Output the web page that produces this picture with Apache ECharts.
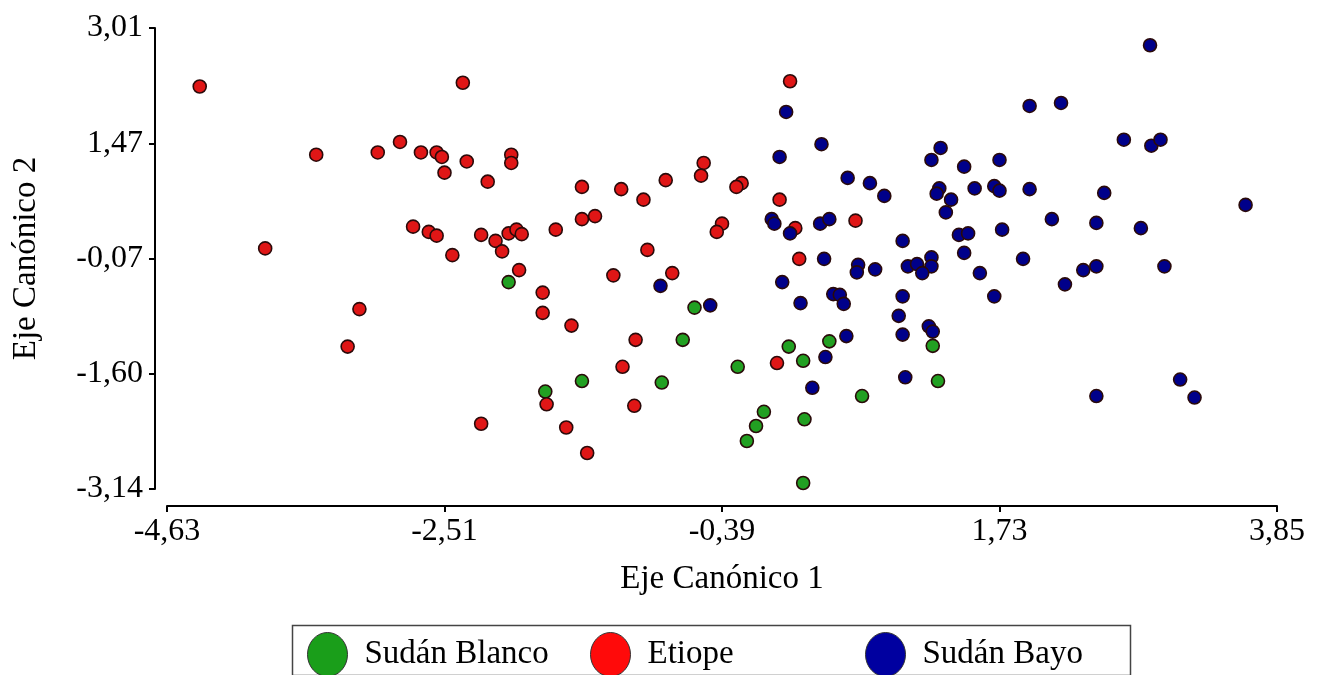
<!DOCTYPE html>
<html>
<head>
<meta charset="utf-8">
<script src="https://cdn.jsdelivr.net/npm/echarts@6/dist/echarts.min.js"></script>
<style>
html,body{margin:0;padding:0;background:#fff;}
#chart{width:1319px;height:675px;}
</style>
</head>
<body>
<div id="chart"></div>
<script>
const seriesNames = ['Sudán Blanco', 'Etiope', 'Sudán Bayo'];
const xTicks = [-4.63, -2.51, -0.39, 1.73, 3.85];
const yTicks = [-3.14, -1.60, -0.07, 1.47, 3.01];
const xTitle = 'Eje Canónico 1';
const yTitle = 'Eje Canónico 2';

const sudanBlanco = [
  [-2.02,-0.38],[-0.60,-0.72],[-0.69,-1.15],[-1.46,-1.70],[-0.85,-1.72],[-1.74,-1.84],
  [-0.27,-1.51],[0.12,-1.24],[0.23,-1.43],[0.43,-1.17],[1.22,-1.23],[1.26,-1.70],
  [0.68,-1.90],[-0.07,-2.11],[-0.13,-2.30],[-0.20,-2.50],[0.24,-2.21],[0.23,-3.06]
];
const etiope = [
  [-4.38,2.23],[-3.49,1.32],[-3.02,1.35],[-2.85,1.49],[-2.69,1.35],[-2.57,1.35],[-2.53,1.29],
  [-2.51,1.08],[-2.75,0.36],[-2.63,0.29],[-2.57,0.24],[-3.88,0.07],[-2.45,-0.02],[-2.37,2.28],
  [-2.34,1.23],[-2.00,1.32],[-2.00,1.21],[-2.18,0.96],[-1.46,0.89],[-1.16,0.86],[-0.99,0.72],
  [-0.82,0.98],[-0.53,1.21],[-0.55,1.04],[-0.39,0.40],[-0.43,0.29],[-2.23,0.25],[-2.12,0.17],
  [-2.02,0.27],[-1.96,0.32],[-1.92,0.26],[-2.07,0.03],[-1.66,0.32],[-1.46,0.46],[-1.36,0.50],
  [-0.96,0.05],[0.13,2.30],[-0.24,0.94],[-0.28,0.89],[0.05,0.72],[0.17,0.34],[0.63,0.44],
  [0.20,-0.07],[-3.16,-0.74],[-3.25,-1.24],[-1.94,-0.22],[-1.76,-0.52],[-1.76,-0.79],
  [-1.54,-0.96],[-1.22,-0.29],[-0.77,-0.26],[-1.05,-1.15],[-1.15,-1.51],[-1.73,-2.01],
  [-1.06,-2.03],[-2.23,-2.27],[-1.58,-2.32],[-1.42,-2.66],[0.03,-1.46]
];
const sudanBayo = [
  [0.10,1.89],[0.37,1.46],[0.05,1.29],[0.57,1.01],[0.74,0.94],[0.85,0.77],[1.28,1.41],
  [1.21,1.25],[1.46,1.16],[1.73,1.25],[1.27,0.87],[1.25,0.80],[1.36,0.72],[1.32,0.55],
  [1.54,0.87],[1.69,0.90],[1.73,0.84],[1.75,0.32],[1.42,0.25],[1.49,0.27],[1.46,0.01],
  [0.99,0.17],[1.21,-0.05],[-0.01,0.46],[0.01,0.40],[0.13,0.27],[0.36,0.40],[0.43,0.46],
  [0.39,-0.07],[2.88,2.78],[1.96,1.97],[2.20,2.01],[2.68,1.52],[2.89,1.44],[2.96,1.52],
  [1.96,0.86],[2.53,0.81],[3.61,0.65],[2.13,0.46],[2.47,0.41],[2.81,0.34],[1.91,-0.07],
  [0.65,-0.15],[0.64,-0.25],[0.78,-0.21],[1.03,-0.17],[1.10,-0.14],[1.21,-0.17],[1.14,-0.26],
  [1.58,-0.26],[1.69,-0.57],[0.07,-0.38],[0.21,-0.66],[0.46,-0.54],[0.51,-0.55],[0.54,-0.67],
  [0.99,-0.57],[0.96,-0.83],[0.99,-1.08],[1.19,-0.97],[1.22,-1.04],[0.56,-1.10],[0.40,-1.38],
  [1.01,-1.65],[0.30,-1.79],[2.37,-0.22],[2.47,-0.17],[2.23,-0.41],[2.99,-0.17],[2.47,-1.90],
  [3.11,-1.68],[3.22,-1.92],[-0.86,-0.43],[-0.48,-0.69]
];

const markerColors = ['#22a022', '#e01616', '#00008a'];
const legendColors = ['#1a9e1a', '#ff0a0a', '#0000a0'];
const FONT = "'Liberation Serif', 'Times New Roman', serif";
const fmt = v => Number(v).toFixed(2).replace('.', ',');

const chart = echarts.init(document.getElementById('chart'), null, {renderer: 'canvas'});

const seriesData = [sudanBlanco, etiope, sudanBayo];
const legendLefts = [302, 585, 860];
const ellipseIcon = 'path://M20,0A20,22,0,1,1,20,44A20,22,0,1,1,20,0Z';

const option = {
  backgroundColor: '#ffffff',
  animation: false,
  grid: {left: 167, right: 42, top: 28, bottom: 186, containLabel: false},
  xAxis: {
    type: 'value', min: xTicks[0], max: xTicks[xTicks.length - 1],
    offset: 17,
    name: xTitle, nameLocation: 'middle', nameGap: 57,
    nameTextStyle: {fontFamily: FONT, fontSize: 33, color: '#000'},
    axisLine: {show: true, onZero: false, lineStyle: {color: '#000', width: 2}},
    axisTick: {show: true, inside: false, length: 6, lineStyle: {color: '#000', width: 2}, customValues: xTicks},
    axisLabel: {customValues: xTicks, formatter: fmt, fontFamily: FONT, fontSize: 32, color: '#000', margin: 10},
    splitLine: {show: false}
  },
  yAxis: {
    type: 'value', min: yTicks[0], max: yTicks[yTicks.length - 1],
    offset: 12,
    name: yTitle, nameLocation: 'middle', nameGap: 112, nameRotate: 90,
    nameTextStyle: {fontFamily: FONT, fontSize: 33, color: '#000'},
    axisLine: {show: true, onZero: false, lineStyle: {color: '#000', width: 2}},
    axisTick: {show: true, inside: false, length: 6, lineStyle: {color: '#000', width: 2}, customValues: yTicks},
    axisLabel: {customValues: yTicks, formatter: fmt, fontFamily: FONT, fontSize: 32, color: '#000', margin: 12},
    splitLine: {show: false}
  },
  legend: seriesNames.map((n, i) => ({
    data: [{name: n, itemStyle: {color: legendColors[i], borderColor: '#333', borderWidth: 1}}],
    left: legendLefts[i], top: 627,
    itemWidth: 40, itemHeight: 44,
    icon: ellipseIcon,
    symbolKeepAspect: false,
    textStyle: {fontFamily: FONT, fontSize: 33, color: '#000', padding: [0, 0, 0, 12]},
    selectedMode: false
  })),
  graphic: [{
    type: 'rect', left: 290, top: 623,
    shape: {width: 838, height: 50},
    style: {fill: 'none', stroke: '#444', lineWidth: 1.5},
    silent: true
  }],
  series: seriesNames.map((n, i) => ({
    name: n, type: 'scatter',
    data: seriesData[i],
    symbol: 'circle', symbolSize: 13,
    itemStyle: {color: markerColors[i], borderColor: '#2a0a0a', borderWidth: 1.6, opacity: 1},
    emphasis: {disabled: true}
  }))
};
chart.setOption(option);
</script>
</body>
</html>
